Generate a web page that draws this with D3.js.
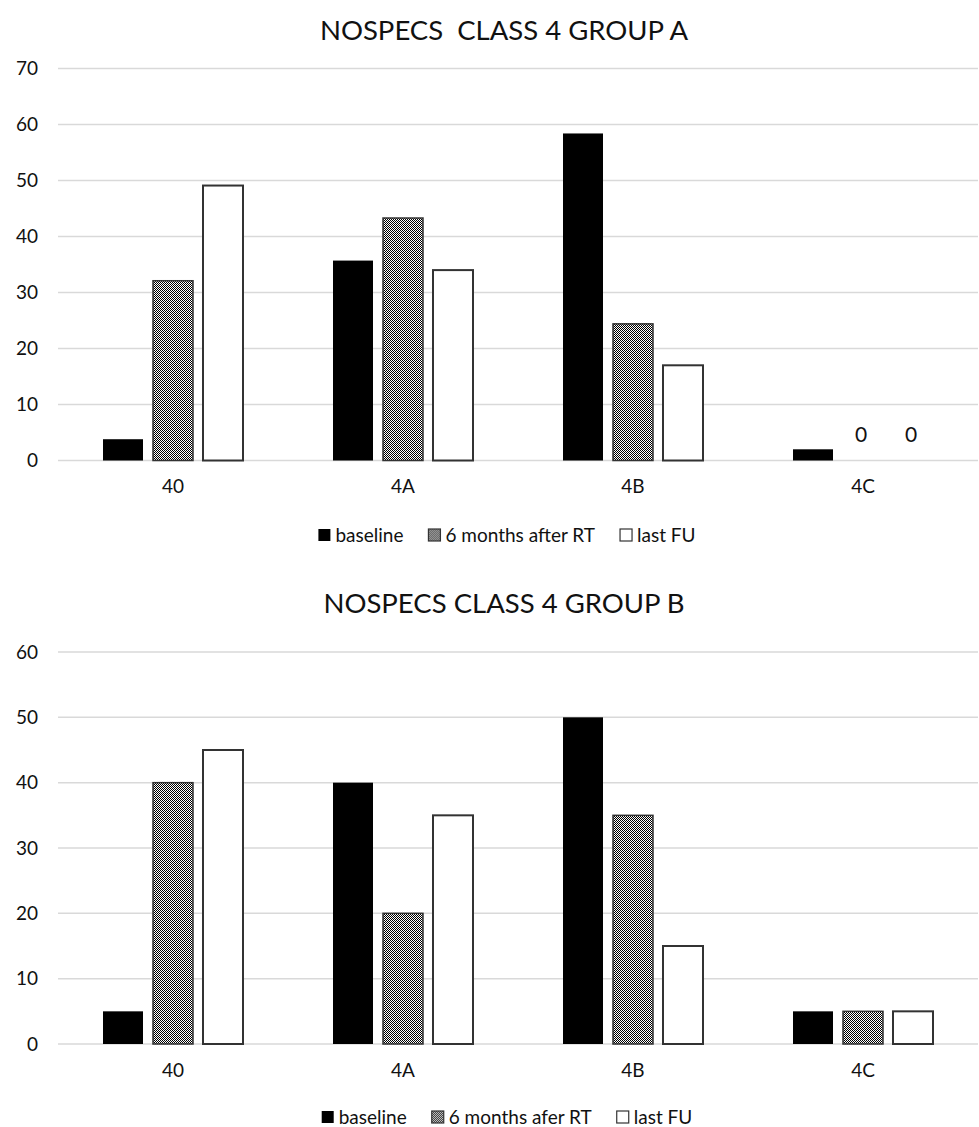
<!DOCTYPE html>
<html><head><meta charset="utf-8">
<script src="https://cdn.jsdelivr.net/npm/d3@7"></script>
<style>
html,body{margin:0;padding:0;background:#fff;}
svg{display:block;}
text{font-family:Lato,"Open Sans",sans-serif;fill:#111;}
</style></head>
<body>
<svg id="chart" width="979" height="1127"></svg>
<script>
// ---- data ----
const categories = ["40", "4A", "4B", "4C"];
const seriesNamesA = ["baseline", "6 months after RT", "last FU"];
const seriesNamesB = ["baseline", "6 months afer RT", "last FU"];
const baselineA = [3.8, 35.7, 58.4, 2];
const sixMonthsA = [32.1, 43.3, 24.4, 0];
const lastFuA = [49.1, 34, 17, 0];
const baselineB = [5, 40, 50, 5];
const sixMonthsB = [40, 20, 35, 5];
const lastFuB = [45, 35, 15, 5];
const ticksA = [0, 10, 20, 30, 40, 50, 60, 70];
const ticksB = [0, 10, 20, 30, 40, 50, 60];
const titleA = "NOSPECS\u00a0\u00a0CLASS 4 GROUP A";
const titleB = "NOSPECS CLASS 4 GROUP B";

const svg = d3.select("#chart");
const defs = svg.append("defs");
const pat = defs.append("pattern").attr("id", "checker")
  .attr("patternUnits", "userSpaceOnUse").attr("width", 2).attr("height", 2);
pat.append("rect").attr("width", 2).attr("height", 2).attr("fill", "#fff");
pat.append("rect").attr("x", 0).attr("y", 0).attr("width", 1).attr("height", 1).attr("fill", "#000");
pat.append("rect").attr("x", 1).attr("y", 1).attr("width", 1).attr("height", 1).attr("fill", "#000");

const styles = [
  {fill: "#000", stroke: "none", sw: 0},
  {fill: "url(#checker)", stroke: "#333", sw: 1.5},
  {fill: "#fff", stroke: "#333", sw: 2}
];

function drawChart(cfg) {
  const g = svg.append("g");
  const x = d3.scaleBand().domain(categories).range([58, 978]);
  const xi = d3.scaleBand().domain(d3.range(3)).range([0, x.bandwidth()])
    .paddingInner(0.2).paddingOuter(0.9);
  const y = d3.scaleLinear().domain([0, d3.max(cfg.ticks)]).range([cfg.y0, cfg.yTop]);

  // title
  g.append("text").attr("x", 504).attr("y", cfg.titleY).attr("text-anchor", "middle")
    .style("font-size", "27.5px").text(cfg.title);

  // gridlines
  g.append("g").selectAll("line").data(cfg.ticks).join("line")
    .attr("x1", 58).attr("x2", 978)
    .attr("y1", d => y(d)).attr("y2", d => y(d))
    .attr("stroke", "#d9d9d9").attr("stroke-width", 1.5);

  // y tick labels
  g.append("g").selectAll("text").data(cfg.ticks).join("text")
    .attr("x", 38).attr("y", d => y(d)).attr("text-anchor", "end")
    .attr("dy", "0.35em").style("font-size", "19px").text(d => d);

  // bars
  cfg.series.forEach((vals, si) => {
    const st = styles[si];
    g.append("g").selectAll("rect").data(vals.map((v, i) => ({c: categories[i], v})))
      .join("rect")
      .attr("x", d => x(d.c) + xi(si))
      .attr("width", xi.bandwidth())
      .attr("y", d => y(d.v))
      .attr("height", d => y(0) - y(d.v))
      .attr("fill", st.fill)
      .attr("stroke", d => d.v > 0 ? st.stroke : "none")
      .attr("stroke-width", st.sw);
    if (cfg.zeroLabels) {
      g.append("g").selectAll("text").data(vals.map((v, i) => ({c: categories[i], v})).filter(d => d.v === 0))
        .join("text")
        .attr("x", d => x(d.c) + xi(si) + xi.bandwidth() / 2 - 2)
        .attr("y", d => y(d.v) - 19)
        .attr("text-anchor", "middle").style("font-size", "21px")
        .text(d => d.v);
    }
  });

  // category labels
  g.append("g").selectAll("text").data(categories).join("text")
    .attr("x", d => x(d) + x.bandwidth() / 2).attr("y", cfg.y0 + 26)
    .attr("dy", "0.35em").attr("text-anchor", "middle")
    .style("font-size", "19px").text(d => d);

  // legend
  const lg = g.append("g");
  let cx = 0;
  cfg.names.forEach((n, i) => {
    const it = lg.append("g").attr("transform", `translate(${cx},0)`);
    it.append("rect").attr("x", 0).attr("y", -6).attr("width", 12).attr("height", 12)
      .attr("fill", styles[i].fill)
      .attr("stroke", i === 0 ? "none" : "#333").attr("stroke-width", 1.2);
    const t = it.append("text").attr("x", 17).attr("y", 0).attr("dy", "0.35em")
      .style("font-size", "19px").text(n);
    const w = t.node().getComputedTextLength();
    cx += 17 + w + 25;
  });
  const total = cx - 25;
  lg.attr("transform", `translate(${507 - total / 2},${cfg.legendY})`);
}

drawChart({
  title: titleA, titleY: 40, ticks: ticksA, y0: 460.5, yTop: 68.5,
  series: [baselineA, sixMonthsA, lastFuA], names: seriesNamesA,
  legendY: 535, zeroLabels: true
});
drawChart({
  title: titleB, titleY: 613, ticks: ticksB, y0: 1044, yTop: 652,
  series: [baselineB, sixMonthsB, lastFuB], names: seriesNamesB,
  legendY: 1117, zeroLabels: false
});
</script>
</body></html>
